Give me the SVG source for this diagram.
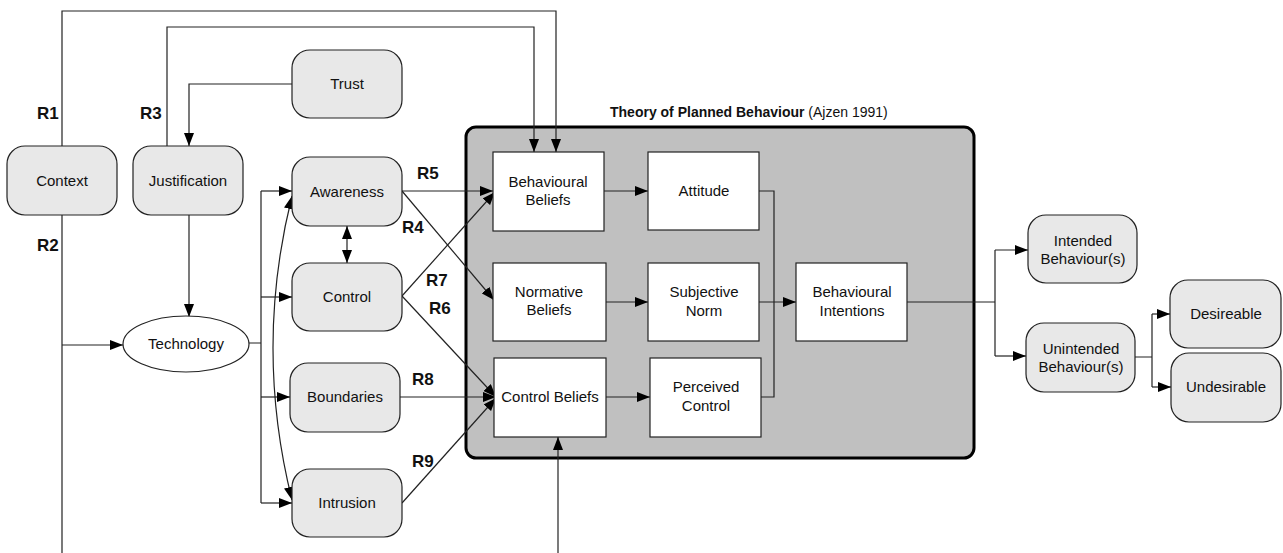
<svg xmlns="http://www.w3.org/2000/svg" width="1283" height="553" viewBox="0 0 1283 553">
<defs>
<marker id="ah" markerUnits="userSpaceOnUse" markerWidth="14" markerHeight="10" viewBox="0 0 14 10" refX="13" refY="5" orient="auto-start-reverse">
<path d="M0,0 L13,5 L0,10 z" fill="#000"/>
</marker>
<style>
.n{fill:#e8e8e8;stroke:#222;stroke-width:1.2}
.b{fill:#fff;stroke:#222;stroke-width:1.2}
.t{font-family:"Liberation Sans",Arial,sans-serif;font-size:15px;fill:#111;text-anchor:middle}
.r{font-family:"Liberation Sans",Arial,sans-serif;font-size:17px;font-weight:bold;fill:#111}
.c{fill:none;stroke:#222;stroke-width:1.2}
.a{marker-end:url(#ah)}
</style>
</defs>
<rect x="0" y="0" width="1283" height="553" fill="#fff"/>

<g id="tpb">
<rect x="466" y="127" width="508" height="331" rx="10" fill="#c0c0c0" stroke="#000" stroke-width="3"/>
<text x="610" y="117" font-family="Liberation Sans,Arial,sans-serif" font-size="14" fill="#111"><tspan font-weight="bold">Theory of Planned Behaviour</tspan> (Ajzen 1991)</text>
</g>

<g id="connectors">
<path class="c a" d="M62,146 V11 H556 V152"/>
<path class="c a" d="M167,146 V27 H534 V152"/>
<path class="c a" d="M292,84 H189 V146"/>
<path class="c a" d="M62,215 V553 M62,345 H123"/>
<path class="c a" d="M189,215 V317"/>
<path class="c" d="M249,343 H261 M261,191 V503"/>
<path class="c a" d="M261,191 H292"/>
<path class="c a" d="M261,297 H292"/>
<path class="c a" d="M261,397 H290"/>
<path class="c a" d="M261,503 H292"/>
<path class="c a" d="M292,196 Q254,348 292,500" style="marker-start:url(#ah)"/>
<path class="c a" d="M347,226 V263" style="marker-start:url(#ah)"/>
<path class="c a" d="M402,191 H493"/>
<path class="c a" d="M402,191 L494,300"/>
<path class="c a" d="M402,296 L495,192"/>
<path class="c a" d="M402,296 L496,397"/>
<path class="c a" d="M400,397 H496"/>
<path class="c a" d="M402,503 L496,398"/>
<path class="c a" d="M558,553 V437"/>
<path class="c a" d="M604,191 H648"/>
<path class="c a" d="M606,302 H648"/>
<path class="c a" d="M606,397 H650"/>
<path class="c" d="M759,191 H774 V397 H761"/>
<path class="c a" d="M759,302 H796"/>
<path class="c" d="M907,302 H995 M995,250 V356"/>
<path class="c a" d="M995,250 H1028"/>
<path class="c a" d="M995,356 H1026"/>
<path class="c" d="M1135,357 H1152 M1152,314 V387"/>
<path class="c a" d="M1152,314 H1170"/>
<path class="c a" d="M1152,387 H1171"/>
<text class="r" x="37" y="119">R1</text>
<text class="r" x="140" y="119">R3</text>
<text class="r" x="37" y="251">R2</text>
<text class="r" x="417" y="179">R5</text>
<text class="r" x="402" y="233">R4</text>
<text class="r" x="426" y="286">R7</text>
<text class="r" x="429" y="314">R6</text>
<text class="r" x="412" y="385">R8</text>
<text class="r" x="412" y="467">R9</text>
</g>

<g id="context"><rect class="n" x="7" y="146" width="110" height="69" rx="18"/><text class="t" x="62" y="186">Context</text></g>
<g id="justification"><rect class="n" x="133" y="146" width="110" height="69" rx="18"/><text class="t" x="188" y="186">Justification</text></g>
<g id="trust"><rect class="n" x="292" y="50" width="110" height="68" rx="18"/><text class="t" x="347" y="89">Trust</text></g>
<g id="technology"><ellipse cx="186" cy="344" rx="63" ry="28" fill="#fff" stroke="#222" stroke-width="1.2"/><text class="t" x="186" y="349">Technology</text></g>
<g id="awareness"><rect class="n" x="292" y="157" width="110" height="69" rx="18"/><text class="t" x="347" y="197">Awareness</text></g>
<g id="control"><rect class="n" x="292" y="263" width="110" height="68" rx="18"/><text class="t" x="347" y="302">Control</text></g>
<g id="boundaries"><rect class="n" x="290" y="363" width="110" height="69" rx="18"/><text class="t" x="345" y="402">Boundaries</text></g>
<g id="intrusion"><rect class="n" x="292" y="469" width="110" height="68" rx="18"/><text class="t" x="347" y="508">Intrusion</text></g>

<g id="behavioural-beliefs"><rect class="b" x="493" y="152" width="111" height="79"/><text class="t" x="548" y="187">Behavioural</text><text class="t" x="548" y="205">Beliefs</text></g>
<g id="attitude"><rect class="b" x="648" y="152" width="111" height="78"/><text class="t" x="704" y="196">Attitude</text></g>
<g id="normative-beliefs"><rect class="b" x="493" y="263" width="113" height="78"/><text class="t" x="549" y="297">Normative</text><text class="t" x="549" y="315">Beliefs</text></g>
<g id="subjective-norm"><rect class="b" x="648" y="263" width="111" height="78"/><text class="t" x="704" y="297">Subjective</text><text class="t" x="704" y="316">Norm</text></g>
<g id="control-beliefs"><rect class="b" x="494" y="358" width="112" height="79"/><text class="t" x="550" y="402">Control Beliefs</text></g>
<g id="perceived-control"><rect class="b" x="650" y="358" width="111" height="79"/><text class="t" x="706" y="392">Perceived</text><text class="t" x="706" y="411">Control</text></g>
<g id="behavioural-intentions"><rect class="b" x="796" y="263" width="111" height="78"/><text class="t" x="852" y="297">Behavioural</text><text class="t" x="852" y="316">Intentions</text></g>

<g id="intended"><rect class="n" x="1028" y="215" width="109" height="68" rx="18"/><text class="t" x="1083" y="246">Intended</text><text class="t" x="1083" y="264">Behaviour(s)</text></g>
<g id="unintended"><rect class="n" x="1026" y="323" width="109" height="69" rx="18"/><text class="t" x="1081" y="354">Unintended</text><text class="t" x="1081" y="372">Behaviour(s)</text></g>
<g id="desireable"><rect class="n" x="1170" y="280" width="111" height="68" rx="18"/><text class="t" x="1226" y="319">Desireable</text></g>
<g id="undesirable"><rect class="n" x="1171" y="353" width="110" height="69" rx="18"/><text class="t" x="1226" y="392">Undesirable</text></g>
</svg>
